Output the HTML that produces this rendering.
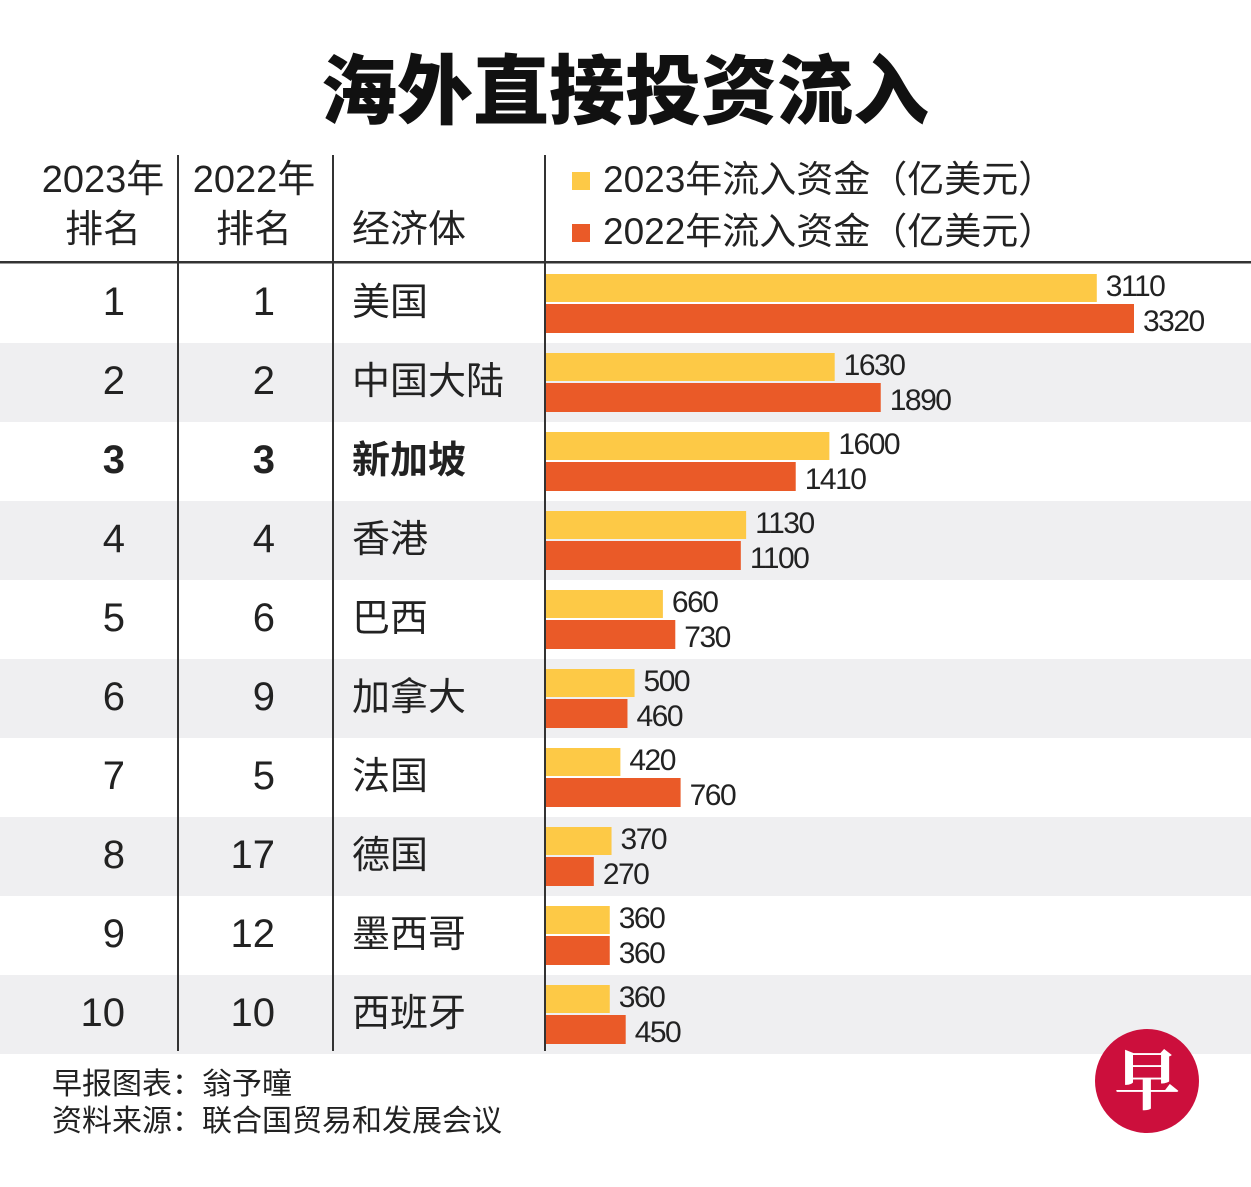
<!DOCTYPE html>
<html><head><meta charset="utf-8">
<style>
html,body{margin:0;padding:0;background:#fff;}
svg{display:block;font-family:"Liberation Sans","Noto Sans CJK SC",sans-serif;}
</style></head>
<body>
<svg id="chart" width="1251" height="1187" viewBox="0 0 1251 1187" xmlns="http://www.w3.org/2000/svg">
<rect width="1251" height="1187" fill="#fff"/>
<text x="625" y="118" text-anchor="middle" font-size="76" font-weight="900" fill="#111" font-family="'Noto Sans CJK SC',sans-serif">海外直接投资流入</text>
<g id="rows"></g>
<g id="header" fill="#222" font-size="38">
<text x="103" y="192" text-anchor="middle">2023年</text>
<text x="103" y="242" text-anchor="middle">排名</text>
<text x="254" y="192" text-anchor="middle">2022年</text>
<text x="254" y="242" text-anchor="middle">排名</text>
<text x="352" y="242">经济体</text>
<rect x="572" y="172" width="18" height="18" fill="#fdc946"/>
<text x="603" y="192" font-size="37">2023年流入资金（亿美元）</text>
<rect x="572" y="224" width="18" height="18" fill="#ea5a28"/>
<text x="603" y="244" font-size="37">2022年流入资金（亿美元）</text>
</g>
<rect x="0" y="261" width="1251" height="2.5" fill="#333"/>
<rect x="177" y="155" width="2" height="896" fill="#333"/>
<rect x="332" y="155" width="2" height="896" fill="#333"/>
<rect x="544" y="155" width="2" height="896" fill="#333"/>
<g id="bars"></g>
<text x="52" y="1094" font-size="30" fill="#222">早报图表：翁予曈</text>
<text x="52" y="1131" font-size="30" fill="#222">资料来源：联合国贸易和发展会议</text>
<g>
<circle cx="1147" cy="1081" r="52" fill="#cc0f3c"/>
<text x="1147" y="1104" text-anchor="middle" font-size="66" font-weight="bold" fill="#fff" font-family="'Noto Serif CJK SC',serif">早</text>
</g>
</svg>
<script>
const economies=["美国","中国大陆","新加坡","香港","巴西","加拿大","法国","德国","墨西哥","西班牙"];
const rank2023=["1","2","3","4","5","6","7","8","9","10"];
const rank2022=["1","2","3","4","6","9","5","17","12","10"];
const values2023=[3110,1630,1600,1130,660,500,420,370,360,360];
const values2022=[3320,1890,1410,1100,730,460,760,270,360,450];
const NS="http://www.w3.org/2000/svg";
const x0=546, scale=(1134-546)/3320;
const rowTop=i=>263+i*79;
const xLen=v=>v*scale;
function mk(tag,attrs,parent,txt){const e=document.createElementNS(NS,tag);for(const k in attrs)e.setAttribute(k,attrs[k]);if(txt!==undefined)e.textContent=txt;parent.appendChild(e);return e;}
const rows=document.getElementById('rows'), bars=document.getElementById('bars');
economies.forEach((name,i)=>{
  const t=rowTop(i);
  if(i%2===1){const r=mk('rect',{x:0,y:t+1,width:1251,height:79,fill:'#efeff1'},rows);
    
    }
  const bold=i===2?'bold':'normal';
  const a=mk('text',{x:125,y:t+52,'text-anchor':'end','font-size':40,'font-weight':bold,fill:'#222'},rows,rank2023[i]);
  
  
  const b=mk('text',{x:275,y:t+52,'text-anchor':'end','font-size':40,'font-weight':bold,fill:'#222'},rows,rank2022[i]);
  
  
  const n=mk('text',{x:352,y:t+52,'font-size':38,'font-weight':bold,fill:'#222'},rows,name);
  
  
  const w1=xLen(values2023[i]), w2=xLen(values2022[i]);
  const y1=mk('rect',{x:x0,y:t+11,width:w1,height:28,fill:'#fdc946'},bars);
  
  
  const y2=mk('rect',{x:x0,y:t+41,width:w2,height:29,fill:'#ea5a28'},bars);
  
  
  const l1=mk('text',{x:x0+w1+9,y:t+33,'font-size':30,'letter-spacing':-1.5,fill:'#222'},bars,String(values2023[i]));
  
  
  const l2=mk('text',{x:x0+w2+9,y:t+68,'font-size':30,'letter-spacing':-1.5,fill:'#222'},bars,String(values2022[i]));
  
  
});
</script>
</body></html>
